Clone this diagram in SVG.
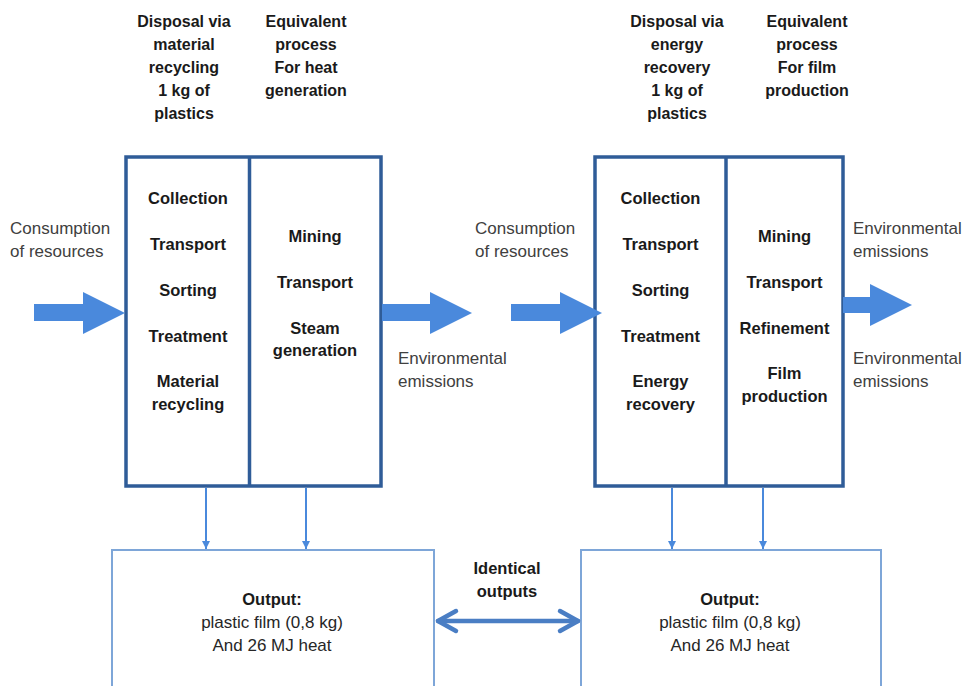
<svg xmlns="http://www.w3.org/2000/svg" width="968" height="686" viewBox="0 0 968 686">
  <style>
    .hdr { font-family: "Liberation Sans", Arial, sans-serif; font-weight: bold; font-size: 16px; fill: #1a1a1a; text-anchor: middle; }
    .step { font-family: "Liberation Sans", Arial, sans-serif; font-weight: bold; font-size: 16.5px; fill: #1a1a1a; text-anchor: middle; }
    .lbl { font-family: "Liberation Sans", Arial, sans-serif; font-size: 17px; fill: #404040; }
    .out { font-family: "Liberation Sans", Arial, sans-serif; font-size: 17px; fill: #262626; text-anchor: middle; }
    .outb { font-family: "Liberation Sans", Arial, sans-serif; font-weight: bold; font-size: 16.5px; fill: #1a1a1a; text-anchor: middle; }
    .proc { fill: #ffffff; stroke: #2f5c98; stroke-width: 3.5; }
    .div { stroke: #2f5c98; stroke-width: 3.5; }
    .outbox { fill: #ffffff; stroke: #7ea6d8; stroke-width: 2; }
    .fat { fill: #4a89dc; }
    .thin { stroke: #4a89dc; stroke-width: 2; fill: none; }
    .dbl { stroke: #4a7ec4; stroke-width: 4.5; fill: none; stroke-linecap: round; stroke-linejoin: round; }
  </style>
  <defs>
    <marker id="tri" viewBox="0 0 10 10" refX="10" refY="5" markerWidth="4" markerHeight="4" orient="auto" markerUnits="strokeWidth">
      <path d="M0,0 L10,5 L0,10 Z" fill="#4a89dc"/>
    </marker>
  </defs>
  <rect width="968" height="686" fill="#ffffff"/>

  <!-- column headers -->
  <g id="hdr-recycling">
    <text class="hdr" x="184" y="27">Disposal via</text>
    <text class="hdr" x="184" y="50">material</text>
    <text class="hdr" x="184" y="73">recycling</text>
    <text class="hdr" x="184" y="96">1 kg of</text>
    <text class="hdr" x="184" y="119">plastics</text>
  </g>
  <g id="hdr-heat">
    <text class="hdr" x="306" y="27">Equivalent</text>
    <text class="hdr" x="306" y="50">process</text>
    <text class="hdr" x="306" y="73">For heat</text>
    <text class="hdr" x="306" y="96">generation</text>
  </g>
  <g id="hdr-energy">
    <text class="hdr" x="677" y="27">Disposal via</text>
    <text class="hdr" x="677" y="50">energy</text>
    <text class="hdr" x="677" y="73">recovery</text>
    <text class="hdr" x="677" y="96">1 kg of</text>
    <text class="hdr" x="677" y="119">plastics</text>
  </g>
  <g id="hdr-film">
    <text class="hdr" x="807" y="27">Equivalent</text>
    <text class="hdr" x="807" y="50">process</text>
    <text class="hdr" x="807" y="73">For film</text>
    <text class="hdr" x="807" y="96">production</text>
  </g>

  <!-- system 1: material recycling + heat generation -->
  <g id="system-recycling">
    <rect class="proc" x="126" y="157" width="255" height="329"/>
    <line class="div" x1="249.5" y1="157" x2="249.5" y2="486"/>
    <text class="step" x="188" y="204">Collection</text>
    <text class="step" x="188" y="250">Transport</text>
    <text class="step" x="188" y="296">Sorting</text>
    <text class="step" x="188" y="342">Treatment</text>
    <text class="step" x="188" y="387">Material</text>
    <text class="step" x="188" y="410">recycling</text>
    <text class="step" x="315" y="242">Mining</text>
    <text class="step" x="315" y="288">Transport</text>
    <text class="step" x="315" y="334">Steam</text>
    <text class="step" x="315" y="356">generation</text>
  </g>

  <!-- system 2: energy recovery + film production -->
  <g id="system-energy">
    <rect class="proc" x="595" y="157" width="248" height="329"/>
    <line class="div" x1="726" y1="157" x2="726" y2="486"/>
    <text class="step" x="660.5" y="204">Collection</text>
    <text class="step" x="660.5" y="250">Transport</text>
    <text class="step" x="660.5" y="296">Sorting</text>
    <text class="step" x="660.5" y="342">Treatment</text>
    <text class="step" x="660.5" y="387">Energy</text>
    <text class="step" x="660.5" y="410">recovery</text>
    <text class="step" x="784.5" y="242">Mining</text>
    <text class="step" x="784.5" y="288">Transport</text>
    <text class="step" x="784.5" y="334">Refinement</text>
    <text class="step" x="784.5" y="379">Film</text>
    <text class="step" x="784.5" y="402">production</text>
  </g>

  <!-- output boxes -->
  <g id="output-recycling">
    <rect class="outbox" x="112" y="550" width="322" height="150"/>
    <text class="outb" x="272" y="605">Output:</text>
    <text class="out" x="272" y="628">plastic film (0,8 kg)</text>
    <text class="out" x="272" y="651">And 26 MJ heat</text>
  </g>
  <g id="output-energy">
    <rect class="outbox" x="581" y="550" width="300" height="150"/>
    <text class="outb" x="730" y="605">Output:</text>
    <text class="out" x="730" y="628">plastic film (0,8 kg)</text>
    <text class="out" x="730" y="651">And 26 MJ heat</text>
  </g>

  <!-- flow labels -->
  <g id="labels">
    <text class="lbl" x="10" y="234">Consumption</text>
    <text class="lbl" x="10" y="257">of resources</text>
    <text class="lbl" x="475" y="234">Consumption</text>
    <text class="lbl" x="475" y="257">of resources</text>
    <text class="lbl" x="398" y="364">Environmental</text>
    <text class="lbl" x="398" y="387">emissions</text>
    <text class="lbl" x="853" y="234">Environmental</text>
    <text class="lbl" x="853" y="257">emissions</text>
    <text class="lbl" x="853" y="364">Environmental</text>
    <text class="lbl" x="853" y="387">emissions</text>
    <text class="outb" x="507" y="574">Identical</text>
    <text class="outb" x="507" y="597">outputs</text>
  </g>

  <!-- connectors -->
  <g id="connectors">
    <!-- block arrows -->
    <path class="fat" d="M34,304 L83,304 L83,292 L125,313 L83,334 L83,321 L34,321 Z"/>
    <path class="fat" d="M382,304 L430,304 L430,292 L472,313 L430,334 L430,321 L382,321 Z"/>
    <path class="fat" d="M511,304 L560,304 L560,292 L602,313 L560,334 L560,321 L511,321 Z"/>
    <path class="fat" d="M843,297 L870,297 L870,284 L912,305 L870,326 L870,313 L843,313 Z"/>
    <!-- process to output arrows -->
    <line class="thin" x1="206" y1="488" x2="206" y2="549" marker-end="url(#tri)"/>
    <line class="thin" x1="306" y1="488" x2="306" y2="549" marker-end="url(#tri)"/>
    <line class="thin" x1="672" y1="488" x2="672" y2="549" marker-end="url(#tri)"/>
    <line class="thin" x1="763" y1="488" x2="763" y2="549" marker-end="url(#tri)"/>
    <!-- identical outputs double arrow -->
    <line class="dbl" x1="438" y1="621" x2="578" y2="621"/>
    <polyline class="dbl" points="456,611 438,621 456,631"/>
    <polyline class="dbl" points="560,611 578,621 560,631"/>
  </g>
</svg>
